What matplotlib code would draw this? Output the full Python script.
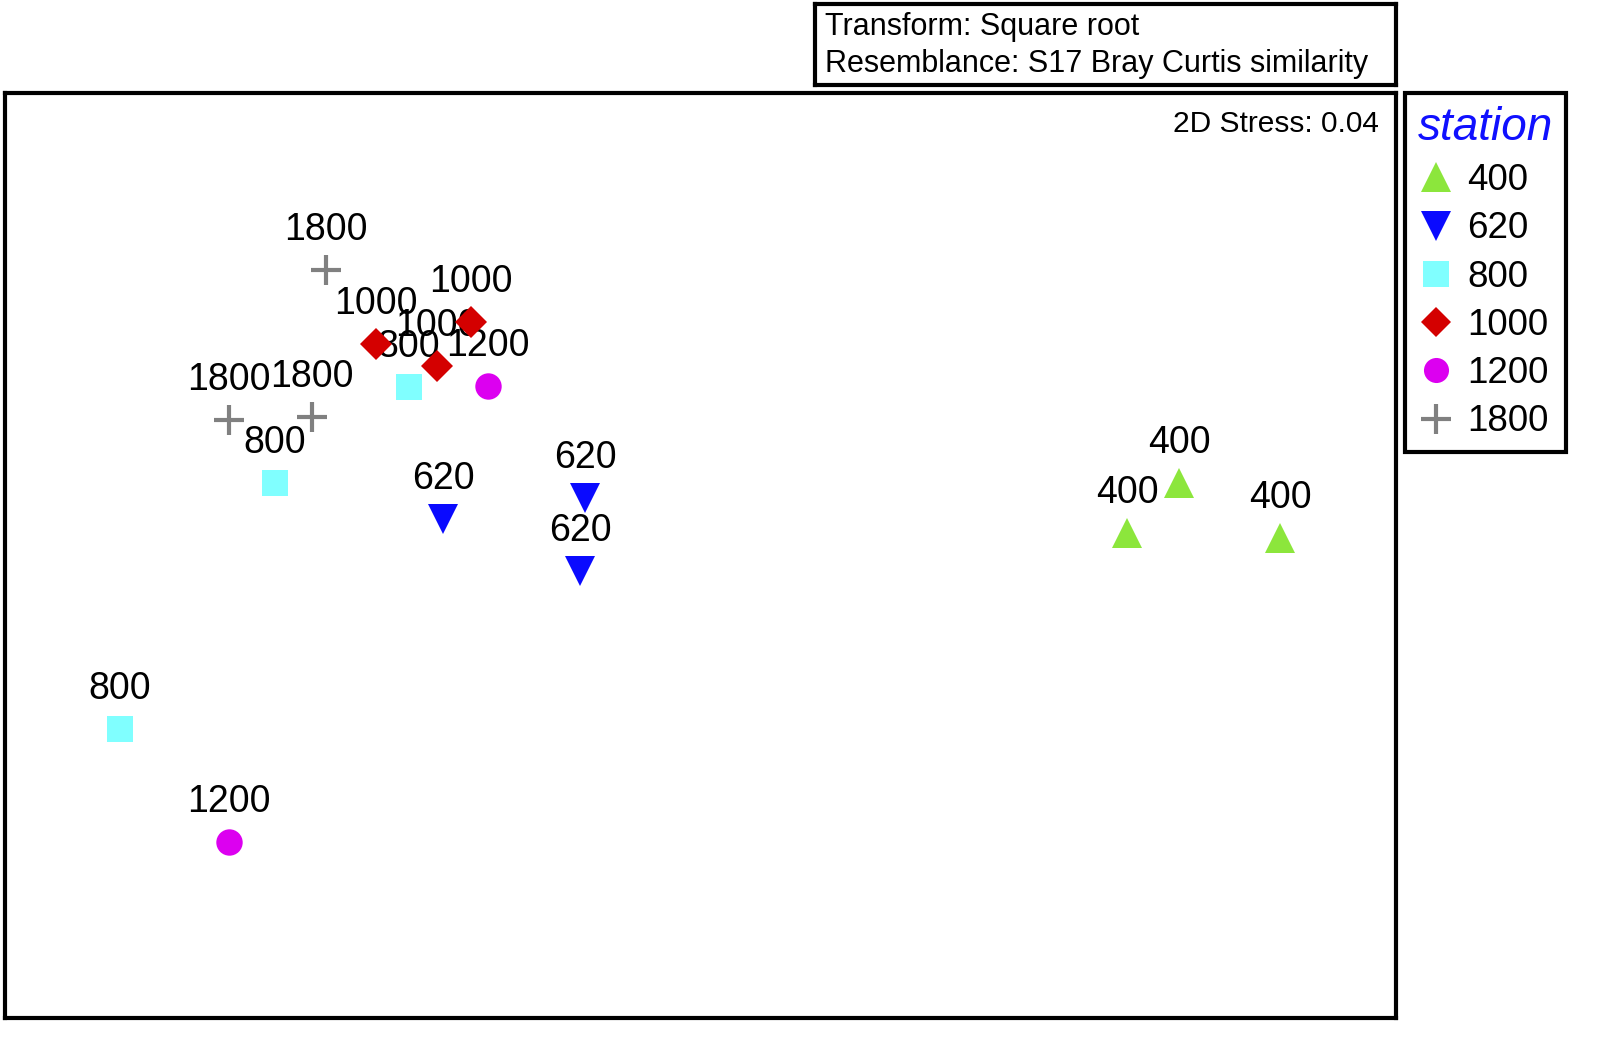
import matplotlib
matplotlib.use("Agg")
from matplotlib import pyplot as plt
from matplotlib.lines import Line2D

plt.rcParams['font.family'] = ['Liberation Sans', 'DejaVu Sans']

# station groups and their nMDS positions (plot units)
stations = ["400", "620", "800", "1000", "1200", "1800"]
x_400 = [1127, 1179, 1280]
y_400 = [533, 483, 538]
x_620 = [443, 585, 580]
y_620 = [519, 498, 571]
x_800 = [120, 275, 409]
y_800 = [729, 483, 387]
x_1000 = [376, 437, 471]
y_1000 = [344, 366, 322]
x_1200 = [229, 488]
y_1200 = [842, 386]
x_1800 = [326, 229, 312]
y_1800 = [270, 420, 417]

xs = [x_400, x_620, x_800, x_1000, x_1200, x_1800]
ys = [y_400, y_620, y_800, y_1000, y_1200, y_1800]
markers = ["^", "v", "s", "D", "o", "+"]
colors = ["#8ce63c", "#0a0aff", "#80ffff", "#d40000", "#dc00f0", "#808080"]
sizes = [22, 22, 19, 16, 19, 22]

W, H = 1599, 1047
fig = plt.figure(figsize=(W / 100, H / 100), dpi=100)

# main plot box
ax = fig.add_axes([5 / W, 1 - 1018 / H, 1391 / W, 925 / H])
ax.set_xlim(5, 1396)
ax.set_ylim(1018, 93)
ax.set_xticks([])
ax.set_yticks([])
for sp in ax.spines.values():
    sp.set_linewidth(3)

# draw order so overlaps look like the reference
order = [5, 4, 2, 3, 1, 0]
for i in order:
    for x, y in zip(xs[i], ys[i]):
        ax.annotate(stations[i], (x, y), xytext=(0, 28.5), textcoords="offset points",
                    ha="center", va="center", fontsize=27, color="black", zorder=3)
        ax.plot([x], [y], linestyle="none", marker=markers[i], markersize=sizes[i],
                color=colors[i], markeredgewidth=3 if markers[i] == "+" else 0, zorder=4)

ax.text(0.988, 0.966, "2D Stress: 0.04", transform=ax.transAxes, ha="right", va="center",
        fontsize=21.5)

# legend
handles = []
for i in range(len(stations)):
    handles.append(Line2D([], [], linestyle="none", marker=markers[i], color=colors[i],
                          markersize=sizes[i] * 0.95,
                          markeredgewidth=3 if markers[i] == "+" else 0))
leg = fig.legend(handles, stations, loc="upper left",
                 bbox_to_anchor=(1405 / W, 1 - 93 / H), borderaxespad=0,
                 fontsize=26.5, title="station", fancybox=False, edgecolor="black",
                 framealpha=1, handlelength=1.0, handletextpad=0.35,
                 labelspacing=0.36, borderpad=0.35, alignment="left")
leg.get_frame().set_linewidth(3)
leg.get_title().set_color("#1010ff")
leg.get_title().set_fontsize(33)
leg.get_title().set_fontstyle("italic")

# header box
hx = fig.add_axes([815 / W, 1 - 85 / H, 581 / W, 81 / H])
hx.set_xticks([])
hx.set_yticks([])
for sp in hx.spines.values():
    sp.set_linewidth(3)
hx.text(0.017, 0.72, "Transform: Square root", transform=hx.transAxes,
        ha="left", va="center", fontsize=22)
hx.text(0.017, 0.26, "Resemblance: S17 Bray Curtis similarity", transform=hx.transAxes,
        ha="left", va="center", fontsize=22)

fig.savefig("out.png", dpi=100)
